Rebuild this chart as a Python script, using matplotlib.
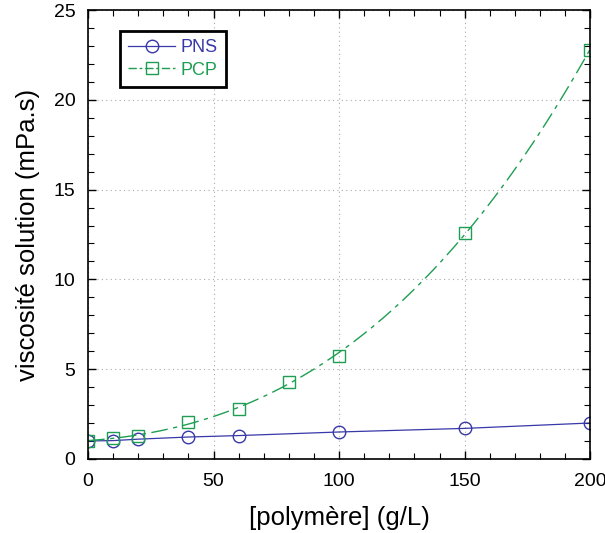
import matplotlib.pyplot as plt
import numpy as np
from matplotlib.ticker import MultipleLocator

plt.rcParams['font.family'] = ['Liberation Sans', 'DejaVu Sans']

# ------------------------------ Datos ------------------------------
conc_pns = [0, 10, 20, 40, 60, 100, 150, 200]
visc_pns = [1.0, 1.02, 1.1, 1.22, 1.3, 1.5, 1.7, 2.0]

conc_pcp = [0, 10, 20, 40, 60, 80, 100, 150, 200]
visc_pcp = [1.0, 1.15, 1.3, 2.08, 2.8, 4.3, 5.73, 12.6, 22.8]

azul = '#3838a8'
verde = '#1e9e52'

# ------------------------------ Gráfica ------------------------------
fig = plt.figure(figsize=(6.05, 5.33), dpi=100)
ax = fig.add_axes([0.1455, 0.139, 0.83, 0.842])

ax.plot(conc_pns, visc_pns, '-', color=azul, lw=0.9, marker='o', ms=9,
        mfc='none', mec=azul, mew=1.0, label='PNS')

# courbe de tendance (ajuste polinomial) + puntos
coef = np.polyfit(conc_pcp, visc_pcp, 3)
xx = np.linspace(0, 200, 200)
ax.plot(xx, np.polyval(coef, xx), color=verde, lw=1.0, ls=(0, (12, 4, 3, 4)))
ax.plot(conc_pcp, visc_pcp, 's', color=verde, ms=9, mfc='none', mec=verde, mew=1.0)
ax.plot([], [], color=verde, lw=1.0, ls=(0, (6, 2, 2, 2)), marker='s', ms=9,
        mfc='none', mec=verde, label='PCP')

ax.set_xlim(0, 200)
ax.set_ylim(0, 25)
ax.xaxis.set_major_locator(MultipleLocator(50))
ax.xaxis.set_minor_locator(MultipleLocator(10))
ax.yaxis.set_major_locator(MultipleLocator(5))
ax.yaxis.set_minor_locator(MultipleLocator(1))
ax.tick_params(which='both', direction='in', top=True, right=True, labelsize=14)
ax.tick_params(axis='x', pad=10)
ax.tick_params(axis='y', pad=9)
ax.tick_params(which='major', length=6, width=1)
ax.tick_params(which='minor', length=4, width=0.8)
for s in ax.spines.values():
    s.set_linewidth(1.2)
ax.grid(True, which='major', ls=(0, (1, 3)), color='#aaaaaa', lw=0.8)

ax.set_xlabel('[polymère] (g/L)', fontsize=18.5, labelpad=12)
ax.set_ylabel('viscosité solution (mPa.s)', fontsize=18.5, labelpad=10)

leg = ax.legend(loc='upper left', bbox_to_anchor=(0.064, 0.953), borderaxespad=0,
                fontsize=13, fancybox=False, framealpha=1, edgecolor='black',
                handlelength=2.6, handletextpad=0.3, labelspacing=0.3,
                borderpad=0.45, labelcolor=[azul, verde])
leg.get_frame().set_linewidth(2)

plt.savefig('out.png')
